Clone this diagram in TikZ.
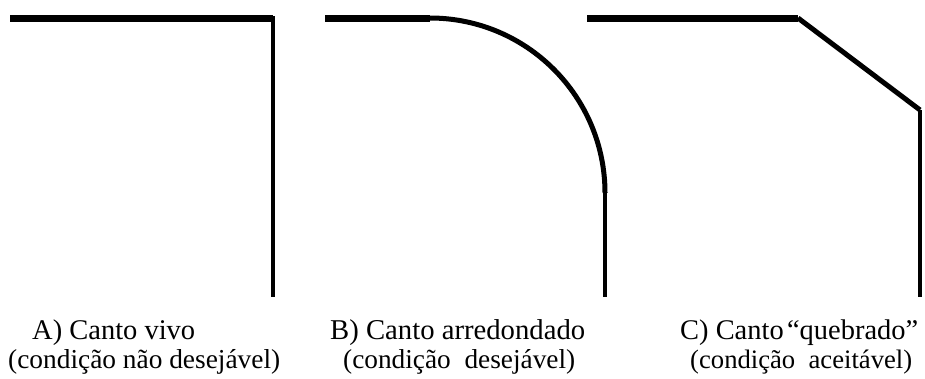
\documentclass[tikz,border=0pt]{standalone}
\usepackage{fontspec}
\usepackage{graphicx}
\setmainfont{Liberation Serif}
\newcommand{\fitw}[2]{\resizebox{#1pt}{!}{\fontsize{28}{30}\selectfont #2}}
\begin{document}
\begin{tikzpicture}[x=1pt,y=-1pt,
  thickline/.style={line width=7pt},
  arcline/.style={line width=5pt},
  thinline/.style={line width=4pt},
  lbl/.style={anchor=base west,inner sep=0pt}]
\useasboundingbox (0,0) rectangle (925,378);
% Panel A
\coordinate (a1) at (10,18);
\coordinate (a2) at (273,18);
\coordinate (a0) at (273,16);
\coordinate (a3) at (273,297);
\draw[thickline] (a1) -- (a2);
\draw[thinline] (a0) -- (a3);
% Panel B
\coordinate (b1) at (325,18);
\coordinate (b2) at (430,18);
\coordinate (b3) at (605,193);
\coordinate (b4) at (605,297);
\draw[thickline] (b1) -- (b2);
\draw[arcline] (b2) arc[start angle=-90,end angle=0,radius=175];
\draw[thinline] (b3) -- (b4);
% Panel C
\coordinate (c1) at (587,18);
\coordinate (c2) at (798,18);
\coordinate (c3) at (920,110);
\coordinate (c4) at (920,297);
\draw[thickline] (c1) -- (c2);
\draw[arcline] (c2) -- (c3);
\draw[thinline] (c3) -- (c4);
% Labels
\node[lbl] (la1) at (32,339) {\fitw{163}{A) Canto vivo}};
\node[lbl] (la2) at (8,368) {\fitw{272}{(condição não desejável)}};
\node[lbl] (lb1) at (330,339) {\fitw{255}{B) Canto arredondado}};
\node[lbl] (lb2) at (343,368) {\fitw{232}{(condição\hspace{0.5em}desejável)}};
\node[lbl] (lc1) at (680,339) {\fitw{238}{C) Canto\hspace{0.12em}“quebrado”}};
\node[lbl] (lc2) at (690,368) {\fitw{222}{(condição\hspace{0.5em}aceitável)}};
\end{tikzpicture}
\end{document}
